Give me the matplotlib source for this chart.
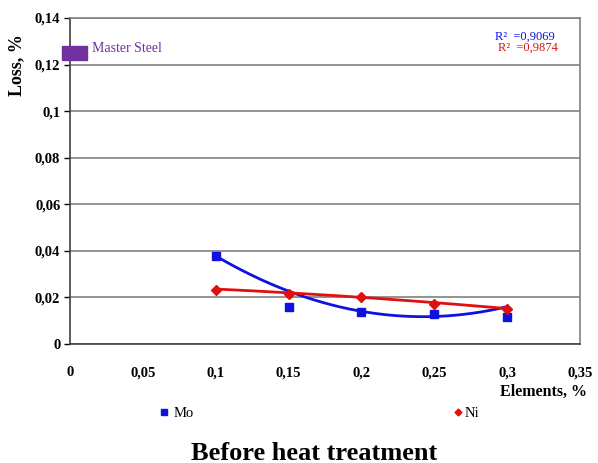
import numpy as np
import matplotlib
matplotlib.use("Agg")
import matplotlib.pyplot as plt
from matplotlib.ticker import FuncFormatter

# Data
elements = [0.10, 0.15, 0.20, 0.25, 0.30]
mo_loss = [0.038, 0.016, 0.0138, 0.0129, 0.0118]
ni_loss = [0.0232, 0.0215, 0.0202, 0.0172, 0.0150]
# Trendline values at the same x positions
mo_trend = [0.038, 0.0223, 0.0142, 0.0120, 0.0159]
ni_trend = [0.0236, 0.0220, 0.0200, 0.0178, 0.0152]
master_x = [0.003]
master_y = [0.1249]
r2_mo = "0,9069"
r2_ni = "0,9874"
x_ticks = [0, 0.05, 0.10, 0.15, 0.20, 0.25, 0.30, 0.35]
y_ticks = [0, 0.02, 0.04, 0.06, 0.08, 0.10, 0.12, 0.14]

plt.rcParams['font.family'] = ['Liberation Serif', 'DejaVu Serif']

fig = plt.figure(figsize=(5.98, 4.63), dpi=100)
ax = fig.add_axes([70/598, 1-344/463, 510/598, 326/463])

blue = '#1010e0'
red = '#e01010'
purple = '#7030a0'

# Polynomial (order 2) trendlines
xs = np.linspace(min(elements), max(elements), 200)
pm = np.polyfit(elements, mo_trend, 2)
pn = np.polyfit(elements, ni_trend, 2)
ax.plot(xs, np.polyval(pm, xs), color=blue, lw=2, zorder=3)
ax.plot(xs, np.polyval(pn, xs), color=red, lw=2, zorder=3)

mo_line, = ax.plot(elements, mo_loss, 's', color=blue, ms=6, ls='none', label='Mo', zorder=4)
ni_line, = ax.plot(elements, ni_loss, 'D', color=red, ms=5, ls='none', label='Ni', zorder=4)

rect = [(-1, -0.56), (1, -0.56), (1, 0.56), (-1, 0.56), (-1, -0.56)]
ax.plot(master_x, master_y, marker=rect, color=purple, ms=18, ls='none',
        clip_on=False, zorder=5)
ax.text(0.0151, 0.1271, 'Master Steel', color=purple, fontsize=10, va='center', ha='left')

ax.text(0.3325, 0.1318, 'R²  =' + r2_mo, color=blue, fontsize=9, ha='right', va='center')
ax.text(0.3345, 0.1272, 'R²  =' + r2_ni, color=red, fontsize=9, ha='right', va='center')

ax.set_xlim(0, 0.35)
ax.set_ylim(0, 0.14)
ax.set_xticks(x_ticks)
ax.set_yticks(y_ticks)
fmt = lambda v, p: ('%g' % round(v, 4)).replace('.', ',')
ax.xaxis.set_major_formatter(FuncFormatter(fmt))
ax.yaxis.set_major_formatter(FuncFormatter(fmt))
for lab in ax.get_xticklabels() + ax.get_yticklabels():
    lab.set_fontweight('bold')
    lab.set_fontsize(10.5)
ax.tick_params(axis='x', length=0, pad=16)
ax.tick_params(axis='y', length=4, width=1, direction='out', pad=3)

ax.grid(axis='y', color='#808080', lw=1.2)
ax.set_axisbelow(True)
for s in ['top', 'right']:
    ax.spines[s].set_color('#808080')
    ax.spines[s].set_linewidth(1.2)
for s in ['left', 'bottom']:
    ax.spines[s].set_color('#404040')
    ax.spines[s].set_linewidth(1.2)

fig.text(17/598, 1-65/463, 'Loss, %', fontweight='bold', fontsize=13, rotation=90,
         ha='center', va='center')
fig.text(587/598, 1-392/463, 'Elements, %', fontweight='bold', fontsize=11.5,
         ha='right', va='center')

for h, x0, pad, ms in [(mo_line, 160, 0.35, 0.8), (ni_line, 454, 0.15, 0.7)]:
    fig.legend(handles=[h], loc='center left', bbox_to_anchor=(x0/598, 1-413/463),
               frameon=False, fontsize=10.5, handlelength=0.6, handletextpad=pad,
               borderpad=0, borderaxespad=0, markerscale=ms)

fig.text(314/598, 1-453/463, 'Before heat treatment', fontweight='bold', fontsize=19,
         ha='center', va='center')

fig.savefig('out.png', dpi=100)
